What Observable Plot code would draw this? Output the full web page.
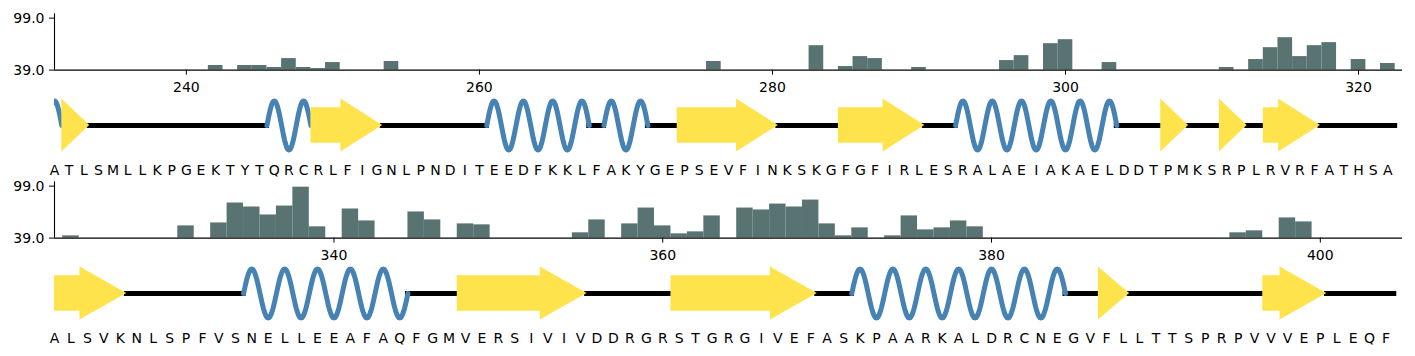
<!DOCTYPE html>
<html>
<head>
<meta charset="utf-8">
<script src="https://cdn.jsdelivr.net/npm/d3@7"></script>
<script src="https://cdn.jsdelivr.net/npm/@observablehq/plot@0.6"></script>
<style>
  html, body { margin: 0; padding: 0; background: white; }
  #chart { position: relative; width: 1415px; height: 356px; overflow: hidden; }
  #chart svg { position: absolute; left: 0; }
</style>
</head>
<body>
<div id="chart"></div>
<script>
// ---------------- data ----------------
const rowStart1 = 231;
const seq1 = "ATLSMLLKPGEKTYTQRCRLFIGNLPNDITEEDFKKLFAKYGEPSEVFINKSKGFGFIRLESRALAEIAKAELDDTPMKSRPLRVRFATHSA";
const rowStart2 = 323;
const seq2 = "ALSVKNLSPFVSNELLEEAFAQFGMVERSIVIVDDRGRSTGRGIVEFASKPAARKALDRCNEGVFLLTTSPRPVVVEPLEQF";

const xTicks1 = [240, 260, 280, 300, 320];
const xTicks2 = [340, 360, 380, 400];
const yTicks = [39, 99];

const barResidues1 = [242, 244, 245, 246, 247, 248, 249, 250, 254, 276, 283, 285, 286, 287, 290, 296, 297, 299, 300, 303, 311, 313, 314, 315, 316, 317, 318, 320, 322];
const barValues1   = [44.3, 44.3, 44.3, 42.0, 52.3, 42.0, 40.8, 47.7, 48.9, 48.9, 67.2, 43.1, 54.6, 52.3, 42.0, 50.0, 55.7, 69.5, 74.1, 47.7, 42.0, 51.2, 64.9, 76.4, 54.6, 67.2, 70.7, 51.2, 46.6];

const barResidues2 = [324, 331, 333, 334, 335, 336, 337, 338, 339, 341, 342, 345, 346, 348, 349, 355, 356, 358, 359, 360, 361, 362, 363, 365, 366, 367, 368, 369, 370, 371, 372, 374, 375, 376, 377, 378, 379, 395, 396, 398, 399];
const barValues2   = [41.6, 53.1, 56.5, 79.5, 74.9, 65.7, 76.0, 97.8, 52.0, 72.6, 58.8, 69.2, 60.0, 55.4, 54.3, 45.1, 60.0, 55.4, 73.7, 53.1, 43.9, 46.2, 64.6, 73.7, 71.5, 78.3, 74.9, 82.9, 55.4, 41.6, 50.8, 41.6, 64.6, 48.5, 50.8, 58.8, 52.0, 45.1, 47.4, 62.3, 57.7];

// secondary structure segments [first residue, last residue]
const helices1 = [[231, 231], [246, 248], [261, 267], [269, 271], [293, 303]];
const strands1 = [[232, 233], [249, 253], [274, 280], [285, 290], [307, 308], [311, 312], [314, 317]];
const helices2 = [[335, 344], [372, 384]];
const strands2 = [[323, 327], [348, 355], [361, 369], [387, 388], [397, 400]];

// ---------------- drawing ----------------
const W = 1415, ML = 54, MR = 13;
const BAR_COLOR = "#597272", HELIX_COLOR = "#4682b4", STRAND_COLOR = "#ffe34d";
const FONT = "DejaVu Sans";
const HEAD = 2.85, BODY = 0.72, HEADW = 1.08, TIP = 0.4;

function barPlot(start, n, ticks, res, vals) {
  const bars = res.map((r, i) => ({r, v: vals[i]}));
  return Plot.plot({
    width: W, height: 100,
    marginLeft: ML, marginRight: MR, marginTop: 13.3, marginBottom: 30.4,
    style: {background: "transparent", fontFamily: FONT, fontSize: "14px", color: "black", overflow: "visible"},
    x: {domain: [start, start + n]},
    y: {domain: [39, 104]},
    marks: [
      Plot.rectY(bars, {x1: d => d.r - 0.5, x2: d => d.r + 0.5, y1: 39, y2: "v", fill: BAR_COLOR}),
      Plot.ruleY([39], {stroke: "black", strokeWidth: 1.1}),
      Plot.ruleX([start], {y1: 39, y2: 104, stroke: "black", strokeWidth: 1.1}),
      Plot.axisX({ticks, tickSize: 5, tickPadding: 6.5, label: null, tickFormat: d => String(d), fontSize: 14}),
      Plot.axisY({ticks: yTicks, tickSize: 5, tickPadding: 5, label: null, tickFormat: d3.format(".1f"), fontSize: 14})
    ]
  });
}

function ssPlot(start, seq, helices, strands) {
  const n = seq.length;
  const letters = Array.from(seq, (c, i) => ({r: start + i, c}));
  const hpts = [];
  helices.forEach(([s, e], k) => {
    const steps = Math.round((e - s + 1) / 0.05);
    for (let j = 0; j <= steps; j++) {
      const t = s - 0.5 + j * 0.05;
      hpts.push({k, x: t, y: Math.sin(Math.PI * (t - s + 0.5))});
    }
  });
  const spts = [];
  strands.forEach(([s, e], k) => {
    const x0 = s - 0.5, xt = e + TIP, xh = Math.max(x0, xt - HEAD);
    if (xh > x0) spts.push({k, x: x0, y1: -BODY, y2: BODY}, {k, x: xh, y1: -BODY, y2: BODY});
    spts.push({k, x: xh, y1: -HEADW, y2: HEADW}, {k, x: xt, y1: 0, y2: 0});
  });
  const elems = [...helices.map(([s, e]) => [s - 0.5, e + 0.5]), ...strands.map(([s, e]) => [s - 0.5, e + TIP])]
    .sort((a, b) => a[0] - b[0]);
  let cur = start - 0.5;
  const coils = [];
  for (const [a, b] of elems) {
    if (a > cur + 1e-6) coils.push({x1: cur, x2: a});
    cur = Math.max(cur, b);
  }
  if (start + n - 0.5 > cur + 1e-6) coils.push({x1: cur, x2: start + n - 0.5});

  return Plot.plot({
    width: W, height: 90,
    marginLeft: ML, marginRight: MR, marginTop: 0, marginBottom: 0,
    style: {background: "transparent", fontFamily: FONT, fontSize: "14px", color: "black", overflow: "visible"},
    x: {domain: [start, start + n], axis: null},
    y: {domain: [-1, 1], range: [59.5, 10.5], axis: null},
    marks: [
      Plot.ruleY(coils, {y: 0, x1: "x1", x2: "x2", stroke: "black", strokeWidth: 5, strokeLinecap: "square", clip: true}),
      Plot.line(hpts, {x: "x", y: "y", z: "k", stroke: HELIX_COLOR, strokeWidth: 5, strokeLinecap: "round", clip: true}),
      Plot.areaY(spts, {x: "x", y1: "y1", y2: "y2", z: "k", fill: STRAND_COLOR, clip: true}),
      Plot.text(letters, {x: "r", y: -1.857, text: "c", fontSize: 14, fill: "black"})
    ]
  });
}

const chart = document.getElementById("chart");
function place(svg, top) { svg.style.top = top + "px"; chart.appendChild(svg); }

place(barPlot(rowStart1, seq1.length, xTicks1, barResidues1, barValues1), 0);
place(ssPlot(rowStart1, seq1, helices1, strands1), 90);
place(barPlot(rowStart2, seq2.length, xTicks2, barResidues2, barValues2), 167.6);
place(ssPlot(rowStart2, seq2, helices2, strands2), 257.6);
</script>
</body>
</html>
